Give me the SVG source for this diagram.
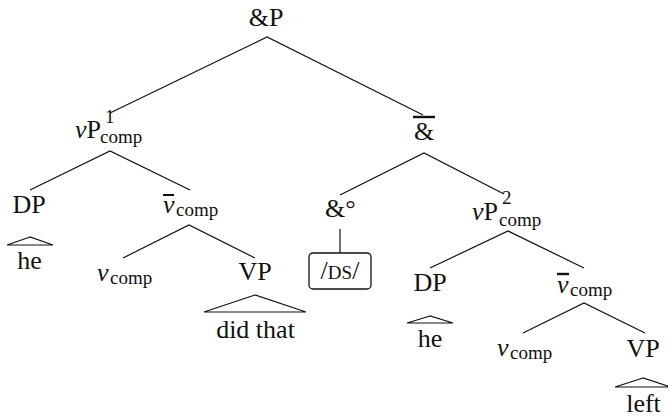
<svg xmlns="http://www.w3.org/2000/svg" width="668" height="417" viewBox="0 0 668 417">
<style>
.t{font-family:'Liberation Serif',serif;font-size:26px;fill:#111}
.s{font-family:'Liberation Serif',serif;font-size:19px;fill:#111}
.c{text-anchor:middle}
.i{font-style:italic}
</style>
<rect x="0" y="0" width="668" height="417" fill="#fff"/>
<g id="connectors" stroke="#111" stroke-width="1.2" fill="none">
<polyline points="110,113 267,37 423,115"/>
<polyline points="30,190 110,151 190,190"/>
<polyline points="123,258 189,225 255,258"/>
<polyline points="340,195 424,153 504,194"/>
<line x1="340" y1="229" x2="340" y2="253"/>
<polyline points="430,268 508,231 584,268"/>
<polyline points="523,333 584,303 645,333"/>
<polygon points="30,237 7,245 53,245"/>
<polygon points="255,295 204,312 306,312"/>
<polygon points="430,316 407,323 453,323"/>
<polygon points="643,378 615,387 671,387"/>
</g>
<g id="andP"><text class="t c" font-family="Liberation Serif" x="266" y="26">&#38;P</text></g>
<g id="vP1"><text class="t" font-family="Liberation Serif" x="75" y="138"><tspan font-style="italic">v</tspan>P</text><text class="s" font-family="Liberation Serif" x="105" y="123">1</text><text class="s" font-family="Liberation Serif" x="100" y="143">comp</text></g>
<g id="DP1"><text class="t c" font-family="Liberation Serif" x="29" y="213">DP</text></g>
<g id="he1"><text class="t c" font-family="Liberation Serif" x="29.5" y="269">he</text></g>
<g id="vbar1"><line stroke="#111" stroke-width="2" x1="163" y1="195" x2="174" y2="195"/><text class="t i" font-family="Liberation Serif" x="163" y="213">v</text><text class="s" font-family="Liberation Serif" x="176" y="216">comp</text></g>
<g id="vcomp1"><text class="t i" font-family="Liberation Serif" x="97" y="281">v</text><text class="s" font-family="Liberation Serif" x="110" y="284">comp</text></g>
<g id="VP1"><text class="t c" font-family="Liberation Serif" x="255" y="280">VP</text></g>
<g id="didthat"><text class="t c" font-family="Liberation Serif" x="255.5" y="338">did that</text></g>
<g id="andbar"><line stroke="#111" stroke-width="2.4" x1="413" y1="117" x2="435" y2="117"/><text class="t c" font-family="Liberation Serif" x="424" y="140">&#38;</text></g>
<g id="andhead"><text class="t" font-family="Liberation Serif" x="325" y="217">&#38;&#176;</text></g>
<g id="DS"><rect fill="none" stroke="#111" stroke-width="1.3" x="309" y="253" width="62" height="36" rx="4"/><text class="t c" font-family="Liberation Serif" x="340" y="279">/<tspan font-size="19">DS</tspan>/</text></g>
<g id="vP2"><text class="t" font-family="Liberation Serif" x="472" y="220"><tspan font-style="italic">v</tspan>P</text><text class="s" font-family="Liberation Serif" x="502" y="204">2</text><text class="s" font-family="Liberation Serif" x="499" y="226">comp</text></g>
<g id="DP2"><text class="t c" font-family="Liberation Serif" x="430" y="291">DP</text></g>
<g id="he2"><text class="t c" font-family="Liberation Serif" x="430" y="347">he</text></g>
<g id="vbar2"><line stroke="#111" stroke-width="2.4" x1="557" y1="274" x2="569" y2="274"/><text class="t i" font-family="Liberation Serif" x="557" y="293">v</text><text class="s" font-family="Liberation Serif" x="570" y="296">comp</text></g>
<g id="vcomp2"><text class="t i" font-family="Liberation Serif" x="497" y="356">v</text><text class="s" font-family="Liberation Serif" x="510" y="359">comp</text></g>
<g id="VP2"><text class="t c" font-family="Liberation Serif" x="643" y="357">VP</text></g>
<g id="left"><text class="t c" font-family="Liberation Serif" x="643.5" y="412">left</text></g>
</svg>
